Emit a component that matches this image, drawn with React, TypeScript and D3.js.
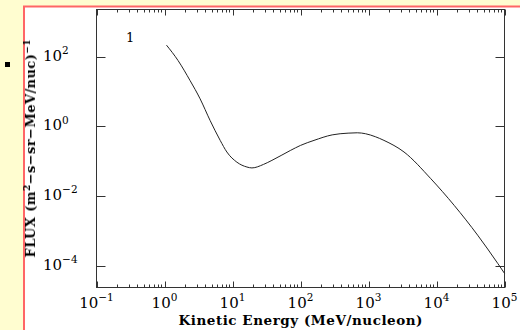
import React from "react";
import * as d3 from "d3";

const energy = [1.07, 1.58, 2.38, 3.34, 4.69, 6.59, 8.26, 11.6, 16.3, 19.3, 28.6, 38.0, 70.8, 100, 158, 292, 501, 684, 906, 1259, 1687, 3327, 8241, 18197, 40272, 79433, 100000];
const flux = [214, 78, 20.6, 6.2, 1.48, 0.40, 0.186, 0.095, 0.069, 0.065, 0.082, 0.107, 0.205, 0.287, 0.40, 0.575, 0.645, 0.66, 0.62, 0.51, 0.40, 0.186, 0.032, 0.0055, 7.7e-4, 1.2e-4, 6.2e-5];
const xTickExps = [-1, 0, 1, 2, 3, 4, 5];
const yTickExps = [-4, -2, 0, 2];

const W = 520, H = 330;
const X0 = 96.5, X1 = 504.5, Y0 = 9.5, Y1 = 287.5;
const FONT = "'DejaVu Serif', serif";

const expText = (e: number) => (e < 0 ? "\u2212" + Math.abs(e) : String(e));

export default function App() {
  const x = d3.scaleLog().domain([0.1, 1e5]).range([X0, X1]);
  const y = d3.scaleLog().domain([Math.pow(10, -4.613), Math.pow(10, 3.352)]).range([Y1, Y0]);
  const pts = energy.map((e, i) => [e, flux[i]] as [number, number]);
  const line = d3.line<[number, number]>().x(d => x(d[0])).y(d => y(d[1])).curve(d3.curveMonotoneX);

  const minor: number[] = [];
  for (let e = -1; e < 5; e++) for (let m = 2; m <= 9; m++) minor.push(m * Math.pow(10, e));

  const ax = "#333";
  return (
    <svg width={W} height={H} style={{ position: "fixed", left: 0, top: 0 }}>
      <rect x={0} y={0} width={W} height={H} fill="#fffdd0" />
      <rect x={24} y={6.5} width={W + 10} height={H + 10} fill="#ffffff" stroke="#ff6666" strokeWidth={2} />
      <rect x={5} y={62} width={5} height={5} fill="#000" />
      <rect x={X0} y={Y0} width={X1 - X0} height={Y1 - Y0} fill="none" stroke={ax} strokeWidth={1} />
      {xTickExps.map(e => {
        const px = Math.round(x(Math.pow(10, e))) + 0.5;
        return (
          <g key={"xt" + e}>
            <line x1={px} x2={px} y1={Y1} y2={Y1 - 6} stroke={ax} />
            <line x1={px} x2={px} y1={Y0} y2={Y0 + 6} stroke={ax} />
            <text x={x(Math.pow(10, e))} y={308} textAnchor="middle" fontFamily={FONT} fontSize={15} fill="#000">
              10<tspan dy={-6.8} fontSize={10.5}>{expText(e)}</tspan>
            </text>
          </g>
        );
      })}
      {minor.map((v, i) => {
        const px = Math.round(x(v)) + 0.5;
        return (
          <g key={"m" + i}>
            <line x1={px} x2={px} y1={Y1} y2={Y1 - 3} stroke={ax} />
            <line x1={px} x2={px} y1={Y0} y2={Y0 + 3} stroke={ax} />
          </g>
        );
      })}
      {yTickExps.map(e => {
        const py = Math.round(y(Math.pow(10, e))) + 0.5;
        return (
          <g key={"yt" + e}>
            <line x1={X0} x2={X0 + 9} y1={py} y2={py} stroke={ax} />
            <line x1={X1} x2={X1 - 9} y1={py} y2={py} stroke={ax} />
            <text x={43} y={y(Math.pow(10, e)) + 4} fontFamily={FONT} fontSize={15} fill="#000">
              10<tspan dy={-6.8} fontSize={10.5}>{expText(e)}</tspan>
            </text>
          </g>
        );
      })}
      <path d={line(pts) || ""} fill="none" stroke="#222" strokeWidth={1} />
      <text x={126} y={42} fontFamily={FONT} fontSize={13} fill="#000">1</text>
      <text x={(X0 + X1) / 2} y={325} textAnchor="middle" fontFamily={FONT} fontWeight="bold" fontSize={13.5} textLength={244} lengthAdjust="spacing" fill="#000">
        Kinetic Energy (MeV/nucleon)
      </text>
      <text transform={`translate(35,${(Y0 + Y1) / 2}) rotate(-90)`} textAnchor="middle" fontFamily={FONT} fontWeight="bold" fontSize={13} textLength={218} lengthAdjust="spacing" fill="#000">
        FLUX (m<tspan dy={-5} fontSize={9}>2</tspan><tspan dy={5}>{"\u2212s\u2212sr\u2212MeV/nuc)"}</tspan><tspan dy={-5} fontSize={9}>{"\u22121"}</tspan>
      </text>
    </svg>
  );
}
